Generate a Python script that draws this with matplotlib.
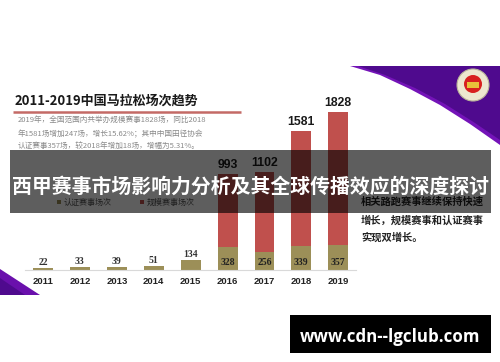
import matplotlib
matplotlib.use("Agg")
import matplotlib.pyplot as plt
import numpy as np
from matplotlib.patches import Polygon, Circle, Rectangle

plt.rcParams['font.family'] = ['Noto Sans CJK SC', 'DejaVu Sans']

# Data
years = ['2011', '2012', '2013', '2014', '2015', '2016', '2017', '2018', '2019']
certified_labels = ['22', '33', '39', '51', '134', '328', '256', '339', '357']
total_labels = ['993', '1102', '1581', '1828']
certified_heights = [22, 30, 35, 45, 110, 266, 208, 278, 289]
total_heights = [1111, 1134, 1609, 1828]
title = '2011-2019中国马拉松场次趋势'
body_lines = ['2019年，全国范围内共举办规模赛事1828场，同比2018',
              '年1581场增加247场，增长15.62%；其中中国田径协会',
              '认证赛事357场，较2018年增加18场，增幅为5.31%。']
side_lines = ['相关路跑赛事继续保持快速', '增长，规模赛事和认证赛事', '实现双增长。']
legend_names = ['认证赛事场次', '规模赛事场次']
banner = '西甲赛事市场影响力分析及其全球传播效应的深度探讨'
site = 'www.cdn--lgclub.com'

RED = '#C0504D'
OLIVE = '#9C8F58'
W, H = 500, 362

fig = plt.figure(figsize=(W / 100, H / 100), dpi=100, facecolor='white')


def pixel_axes(zorder):
    a = fig.add_axes([0, 0, 1, 1], zorder=zorder)
    a.set_xlim(0, W)
    a.set_ylim(H, 0)
    a.axis('off')
    a.patch.set_alpha(0)
    return a


# Background slide
bg = pixel_axes(0)
bg.add_patch(Polygon([(350, 66), (380, 75), (410, 89), (440, 105), (470, 124), (500, 145), (500, 66)],
                     color='#7413B8', lw=0))
bg.add_patch(Polygon([(358, 66), (385, 75), (415, 88), (445, 104), (475, 123), (500, 140), (500, 66)],
                     color='#4F0A8E', lw=0))
bg.add_patch(Polygon([(0, 269), (40, 295), (0, 295)], color='#6A10AC', lw=0))
bg.add_patch(Polygon([(0, 278), (25, 295), (0, 295)], color='#4F0A8E', lw=0))

bg.add_patch(Circle((473, 85), 16, fc='#EDE7CF', ec='#B9B39A', lw=0.8))
bg.add_patch(Circle((473, 84), 9, fc='#D8201F', lw=0))
bg.add_patch(Rectangle((467, 82), 12, 6, fc='#E8C23A', lw=0))

bg.text(15, 101, title, fontsize=9.4, fontweight='bold', color='#1A1A1A', va='center', ha='left')
bg.plot([13, 241], [112, 112], color='#C46A66', lw=1.8, solid_capstyle='butt')
for y, line in zip([120, 134, 147], body_lines):
    bg.text(18, y, line, fontsize=5.5, color='#8A8A8A', va='center', ha='left')

for x, name, c in zip([59, 142], legend_names, [OLIVE, RED]):
    bg.add_patch(Rectangle((x - 2, 200), 4, 4, color=c, lw=0))
    bg.text(x + 5, 202, name, fontsize=5.8, color='#555555', va='center', ha='left')

for y, line in zip([202, 220, 238], side_lines):
    bg.text(361, y, line, fontsize=7.4, fontweight='bold', color='#222222', va='center', ha='left')

# Bars
ax = fig.add_axes([25 / W, 1 - 270 / H, 331 / W, 200 / H], zorder=1)
ax.patch.set_alpha(0)
ax.set_xlim(-0.488, 8.48)
ax.set_ylim(0, 2315)
x = np.arange(len(years))
ax.bar(x[5:], total_heights, width=0.54, color=RED)
ax.bar(x, certified_heights, width=0.54, color=OLIVE)

for xi, h, lab in zip(x, certified_heights, certified_labels):
    if xi < 5:
        ax.text(xi, h + 12, lab, ha='center', va='bottom', fontsize=7, fontweight='bold',
                family='Liberation Serif', color='#333333')
    else:
        ax.text(xi, 92, lab, ha='center', va='center', fontsize=7, fontweight='bold',
                family='Liberation Serif', color='#222222')
for xi, h, lab in zip(x[5:], total_heights, total_labels):
    ax.text(xi, h + 30, lab, ha='center', va='bottom', fontsize=8.8, fontweight='bold',
            family='Liberation Sans', color='#1A1A1A')

for s in ['top', 'left', 'right']:
    ax.spines[s].set_visible(False)
ax.spines['bottom'].set_color('#D9D9D9')
ax.set_yticks([])
ax.set_xticks(x)
ax.set_xticklabels(years, fontsize=6.8, fontweight='bold', family='Liberation Sans', color='#222222')
ax.tick_params(axis='x', length=0, pad=5)

# Overlay banner and site tag
top = pixel_axes(2)
top.add_patch(Rectangle((10, 150), 481, 63, color='black', alpha=0.63, lw=0))
top.text(250.5, 186, banner, fontsize=14.3, fontweight='bold', color='white', ha='center', va='center')
top.add_patch(Rectangle((290, 315), 201, 38, color='black', lw=0))
top.text(390, 336.5, site, fontsize=12.2, fontweight='bold', family='Open Sans', color='white',
         ha='center', va='center')

fig.savefig('out.png', dpi=100)
